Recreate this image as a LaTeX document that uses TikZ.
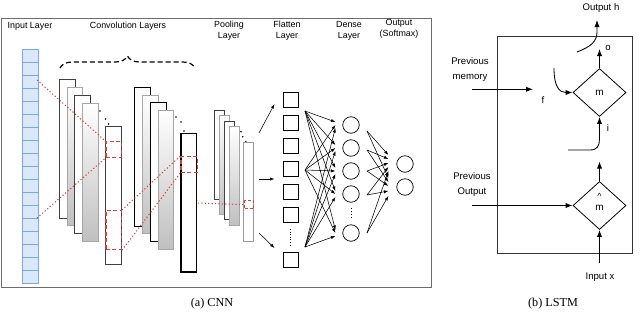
\documentclass[tikz,border=0pt]{standalone}
\usepackage{fontspec}
\setmainfont{Liberation Serif}
\setsansfont{Liberation Sans}
\usetikzlibrary{arrows.meta,decorations.pathreplacing,shapes.geometric,calc}
\definecolor{cellfill}{HTML}{DAE8FC}
\definecolor{celldraw}{HTML}{7EA6E0}
\definecolor{redl}{RGB}{222,60,60}
\begin{document}
\begin{tikzpicture}[x=1pt,y=-1pt,
  lbl/.style={font=\sffamily\fontsize{8.9}{10.8}\selectfont, align=center, inner sep=0},
  llbl/.style={font=\sffamily\fontsize{9.6}{14.5}\selectfont, align=center, inner sep=0},
  captxt/.style={font=\fontsize{12.2}{14}\selectfont, inner sep=0},
  cell/.style={draw=celldraw, fill=cellfill, line width=0.6, minimum width=16, minimum height=13, inner sep=0, anchor=north west},
  plainmap/.style={draw=black!75, fill=white, line width=0.8, anchor=north west, inner sep=0},
  darkmap/.style={draw=black, fill=white, line width=1.1, anchor=north west, inner sep=0},
  shademap/.style={draw=gray!70, top color=white, bottom color=gray!50, line width=0.8, anchor=north west, inner sep=0},
  redbox/.style={draw=redl, dashed, dash pattern=on 4pt off 2.5pt, line width=1.3, anchor=north west, inner sep=0},
  reddot/.style={draw=redl, line width=1, dash pattern=on 1.2pt off 2.2pt},
  sq/.style={draw=black, line width=0.7, minimum size=15, inner sep=0, anchor=north west},
  neuron/.style={circle, draw=black, line width=0.7, minimum size=16.5, inner sep=0},
  arr/.style={-{Latex[length=4.5pt,width=3.2pt]}, line width=0.55},
  larr/.style={-{Latex[length=7pt,width=5.2pt]}, line width=0.85},
  gate/.style={diamond, draw=black, line width=0.8, minimum width=53, minimum height=48, inner sep=0, font=\sffamily\fontsize{10}{12}\selectfont},
  dotn/.style={circle, fill=black, inner sep=0, minimum size=1.8}
]
\useasboundingbox (0,0) rectangle (640,314);
% CNN frame
\node[draw=gray!85!black, line width=1.1, anchor=north west, minimum width=430, minimum height=269, inner sep=0] (frame) at (1,18) {};
% headings
\node[lbl] (tin) at (30,26) {Input Layer};
\node[lbl] (tconv) at (128,26) {Convolution Layers};
\node[lbl] (tpool) at (229,30.5) {Pooling\\Layer};
\node[lbl] (tflat) at (287,30.5) {Flatten\\Layer};
\node[lbl] (tdense) at (349,30.5) {Dense\\Layer};
\node[lbl] (tout) at (399,28.5) {Output\\(Softmax)};
% input column
\foreach \k in {1,...,18} {
  \node[cell] (in\k) at (22,{49+13*(\k-1)}) {};
}
% brace
\coordinate (bl) at (60,68);
\coordinate (br) at (195,68);
\draw[decorate, decoration={brace, amplitude=12pt}, dashed, dash pattern=on 5pt off 3pt, line width=1.2] (bl) -- (br);
% conv group 1
\node[plainmap, minimum width=15.4, minimum height=139] (c1) at (59.3,79.3) {};
\node[shademap, minimum width=15.6, minimum height=138.5] (c2) at (66.7,86.7) {};
\node[plainmap, minimum width=16, minimum height=138.5] (c3) at (74.3,94.7) {};
\node[shademap, minimum width=15.7, minimum height=138.5] (c4) at (82.3,102.7) {};
\node[dotn] (k1) at (100,111) {};
\node[dotn] (k2) at (105.5,119) {};
\node[dotn] (k3) at (108.5,124) {};
\node[plainmap, minimum width=15.4, minimum height=138.3] (c5) at (105.3,125.7) {};
% conv group 2
\node[darkmap, minimum width=15.7, minimum height=138.7] (c6) at (134.3,87) {};
\node[shademap, minimum width=15.4, minimum height=138.3] (c7) at (142.3,95) {};
\node[darkmap, minimum width=15.7, minimum height=138.7] (c8) at (150,102.3) {};
\node[shademap, minimum width=15.6, minimum height=139] (c9) at (157.7,110) {};
\node[dotn] (k4) at (176,117) {};
\node[dotn] (k5) at (181,122) {};
\node[dotn] (k6) at (184,131) {};
\node[darkmap, line width=1.3, minimum width=15.7, minimum height=138.3] (c10) at (180.3,133) {};
% red boxes
\node[redbox, minimum width=15.4, minimum height=16] (rb1) at (105.3,141) {};
\node[redbox, minimum width=15.4, minimum height=39] (rb2) at (105.3,210) {};
\node[redbox, minimum width=16.5, minimum height=15.7] (rb3) at (180.3,156) {};
% pooling layers
\node[plainmap, minimum width=10, minimum height=89.3] (p1) at (214.3,110) {};
\node[shademap, minimum width=10, minimum height=99] (p2) at (219.3,115) {};
\node[plainmap, minimum width=10, minimum height=98.3] (p3) at (224.3,121) {};
\node[shademap, minimum width=10, minimum height=99] (p4) at (229.3,126) {};
\node[dotn] (k7) at (241,131.7) {};
\node[dotn] (k8) at (242.7,136.7) {};
\node[dotn] (k9) at (245.7,141.7) {};
\node[draw=gray!80, fill=white, line width=0.8, anchor=north west, inner sep=0, minimum width=10, minimum height=98.4] (p5) at (243.3,142.3) {};
\node[redbox, dash pattern=on 3pt off 2pt, minimum width=9, minimum height=8] (rb4) at (244,200) {};
% red dotted connectors
\coordinate (s1) at (37,80);
\coordinate (s2) at (37,218);
\coordinate (s3) at (198,203);
\draw[reddot] (s1) -- (rb1.north west);
\draw[reddot] (s2) -- (rb1.south west);
\draw[reddot] (rb2.north east) -- (rb3.north west);
\draw[reddot] (rb2.south east) -- (rb3.south west);
\draw[reddot] (s3) -- (rb4.west);
% pooling -> flatten arrows
\coordinate (pa1) at (259,133);
\coordinate (pa2) at (259,179);
\coordinate (pa3) at (259,233);
\coordinate (pb1) at (274.5,104);
\coordinate (pb2) at (274.5,179);
\coordinate (pb3) at (274.5,248);
\draw[arr] (pa1) -- (pb1);
\draw[arr] (pa2) -- (pb2);
\draw[arr] (pa3) -- (pb3);
% flatten squares
\foreach \k/\y in {1/92,2/115,3/138,4/161,5/184,6/207,7/252} {
  \node[sq] (f\k) at (282.7,\y) {};
}
\coordinate (fd1) at (290,229);
\coordinate (fd2) at (290,246);
\draw[line width=0.8, dash pattern=on 1pt off 1.6pt] (fd1) -- (fd2);
% dense
\foreach \i/\y in {1/125,2/148,3/171,4/194,5/233} {
  \node[neuron] (d\i) at (351,\y) {};
}
\coordinate (dd1) at (351,208);
\coordinate (dd2) at (351,218);
\draw[line width=0.8, dash pattern=on 1pt off 2pt] (dd1) -- (dd2);
% output
\node[neuron] (o1) at (405,164) {};
\node[neuron] (o2) at (405,187) {};
% flatten -> dense
\coordinate (fs1) at (305,111);
\coordinate (fs2) at (305,170);
\coordinate (fs3) at (305,247);
\foreach \s/\dy in {1/-3,2/0,3/3} {
  \foreach \t in {1,...,5} {
    \draw[arr] (fs\s) -- ($(d\t.west)+(-7,\dy)$);
  }
}
% dense -> output
\foreach \i/\sy/\a/\b in {1/131/-9/-9,2/150/-5/-5,3/171/-1/-1,4/195/3/4,5/233/7/9} {
  \coordinate (ds\i) at (367,\sy);
  \draw[arr] (ds\i) -- ($(o1.west)+(-8,\a)$);
  \draw[arr] (ds\i) -- ($(o2.west)+(-8,\b)$);
}
% captions
\node[captxt] (capa) at (212,304) {(a) CNN};
\node[captxt] (capb) at (553,304) {(b) LSTM};
% LSTM
\node[draw=black!80, line width=0.9, anchor=north west, minimum width=135, minimum height=217, inner sep=0] (lbox) at (497,36) {};
\node[gate] (gm) at (599.5,92.5) {m};
\node[gate] (gh) at (599.5,205.5) {};
\node[font=\sffamily\fontsize{9}{10}\selectfont, inner sep=0] (hat) at (599.5,196.5) {\^{}};
\node[font=\sffamily\fontsize{10}{12}\selectfont, inner sep=0] (hm) at (599.5,208) {m};
\node[llbl] (touth) at (601,8) {Output h};
\node[llbl] (to) at (608,48) {o};
\node[llbl] (tf) at (543,100) {f};
\node[llbl] (ti) at (608,128) {i};
\node[llbl] (tpm) at (470,69.5) {Previous\\memory};
\node[llbl] (tpo) at (472,184.5) {Previous\\Output};
\node[llbl] (tix) at (600,277) {Input x};
% output h curve
\coordinate (oh1) at (577,52);
\coordinate (oh2) at (597,20);
\draw[larr] (oh1) .. controls (590,47) and (597,42) .. (597,32) -- (oh2);
% o arrow
\coordinate (oa) at (599.5,49);
\draw[larr] (gm.north) -- (oa);
% f arrow
\coordinate (fa) at (554,68);
\draw[larr] (fa) .. controls (554,88) and (560,92.5) .. (gm.west);
% previous memory
\coordinate (pm1) at (472,89.3);
\coordinate (pm2) at (533,89.3);
\draw[larr] (pm1) -- (pm2);
% i arrow
\coordinate (ia) at (568,150);
\draw[larr] (ia) -- (590,150) .. controls (597,150) and (599.5,146) .. (599.5,139) -- (gm.south);
% m-hat arrows
\coordinate (ha) at (599.5,161.5);
\draw[larr] (gh.north) -- (ha);
\coordinate (po1) at (472,205.5);
\draw[larr] (po1) -- (gh.west);
\coordinate (ix) at (599.5,263);
\draw[larr] (ix) -- (gh.south);
\end{tikzpicture}
\end{document}
